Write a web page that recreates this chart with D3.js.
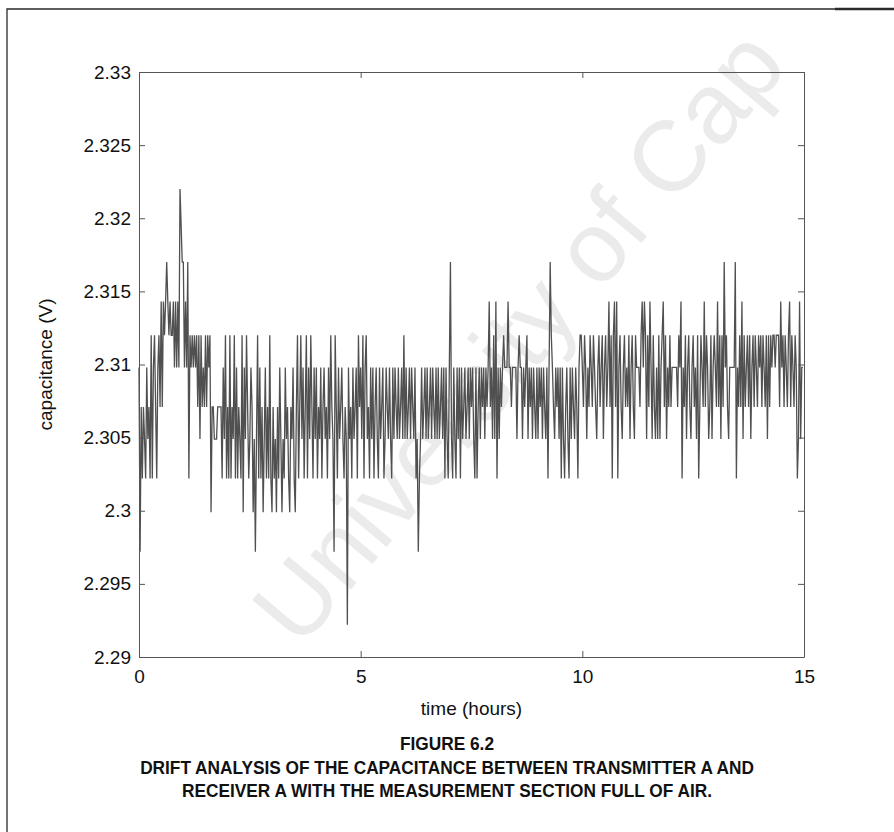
<!DOCTYPE html>
<html>
<head>
<meta charset="utf-8">
<script src="https://cdn.jsdelivr.net/npm/d3@7"></script>
<style>
  html, body { margin: 0; padding: 0; background: #fff; }
  svg { display: block; font-family: "Liberation Sans", Arial, Helvetica, sans-serif; }
</style>
</head>
<body>
<svg id="chart" width="894" height="832"></svg>
<script>
// Quantised ADC output levels (V); each sample is stored as one level code.
const levelCodes = "0123456789ab";
const levelValues = [2.2922, 2.2972, 2.2999, 2.3022, 2.3049, 2.3071, 2.3098, 2.3120, 2.3143, 2.3170, 2.3195, 2.3220];

// One string of level codes per hour of logging (samples evenly spaced within the hour).
const hourlyCodes = [
  "6153543645" + "3736753675" + "8587898787" + "7868686ba9",
  "9686937676" + "7675747565" + "7576725544" + "4555536473",
  "5373547363" + "5437264753" + "4652414736" + "3524635373",
  "2534253642" + "4364532546" + "3257357463" + "5736475364",
  "6354635645" + "3647541753" + "6456435406" + "4536456375",
  "6473674536" + "4635643645" + "6346546436" + "4654645647",
  "4645646546" + "3413464564" + "6456465464" + "6456463643",
  "6943643646" + "3645645646" + "5643635646" + "5646568564",
  "7483646567" + "6668665666" + "6467664656" + "7465646546",
  "4656465463" + "6976546564" + "6364356436" + "4654653677",
  "6576465765" + "7654675674" + "6756857378" + "5836754675",
  "6574675476" + "6657868747" + "5864754647" + "4678574657",
  "5666665768" + "3657467546" + "7564735765" + "8576457467",
  "6585747596" + "7546666693" + "6575847567" + "5746757657",
  "6757657475" + "7677677758" + "6757657857" + "6576348466"
];

const xTickValues = [0, 5, 10, 15];
const yTickValues = [2.29, 2.295, 2.30, 2.305, 2.31, 2.315, 2.32, 2.325, 2.33];
const yTickLabels = ["2.29", "2.295", "2.3", "2.305", "2.31", "2.315", "2.32", "2.325", "2.33"];

const xLabel = "time (hours)";
const yLabel = "capacitance (V)";
const captionLines = [
  "FIGURE 6.2",
  "DRIFT ANALYSIS OF THE CAPACITANCE BETWEEN TRANSMITTER A AND",
  "RECEIVER A WITH THE MEASUREMENT SECTION FULL OF AIR."
];
const watermark = "University of Cap";

// Expand the hourly code strings into (time, value) samples.
const samples = [];
hourlyCodes.forEach((codes, h) => {
  for (let j = 0; j < codes.length; j++) {
    samples.push({ t: h + j / codes.length, v: levelValues[levelCodes.indexOf(codes[j])] });
  }
});

const svg = d3.select("#chart");
const W = 894, H = 832;
const plot = { left: 139, top: 72, right: 804, bottom: 657 };

const x = d3.scaleLinear().domain([0, 15]).range([plot.left, plot.right]);
const y = d3.scaleLinear().domain([2.29, 2.33]).range([plot.bottom, plot.top]);

// Page frame
const frame = svg.append("g").attr("fill", "none").attr("stroke", "#2a2a2a");
frame.append("path").attr("d", `M7,${H} V9 H835`).attr("stroke-width", 1.3);
frame.append("path").attr("d", `M835,9 H${W}`).attr("stroke-width", 2.4);

// Faint diagonal watermark behind the figure
svg.append("text")
  .attr("transform", "translate(300,650) rotate(-50)")
  .attr("font-size", 100)
  .attr("fill", "#ebebeb")
  .text(watermark);

// Data trace
const line = d3.line().x(d => x(d.t)).y(d => y(d.v));
svg.append("path")
  .datum(samples)
  .attr("fill", "none")
  .attr("stroke", "#505050")
  .attr("stroke-width", 1.3)
  .attr("stroke-linejoin", "miter")
  .attr("d", line);

// Axes: inward ticks on all four sides, labels on left and bottom
const axisColor = "#555";
const fontSize = 19;

const gx = svg.append("g").attr("transform", `translate(0,${plot.bottom})`)
  .call(d3.axisBottom(x).tickValues(xTickValues).tickFormat(d3.format("d"))
    .tickSizeInner(-6).tickSizeOuter(0).tickPadding(13));
const gy = svg.append("g").attr("transform", `translate(${plot.left},0)`)
  .call(d3.axisLeft(y).tickValues(yTickValues).tickFormat((d, i) => yTickLabels[i])
    .tickSizeInner(-6).tickSizeOuter(0).tickPadding(8));
const gxTop = svg.append("g").attr("transform", `translate(0,${plot.top})`)
  .call(d3.axisTop(x).tickValues(xTickValues).tickFormat("").tickSizeInner(-6).tickSizeOuter(0));
const gyRight = svg.append("g").attr("transform", `translate(${plot.right},0)`)
  .call(d3.axisRight(y).tickValues(yTickValues).tickFormat("").tickSizeInner(-6).tickSizeOuter(0));

[gx, gy, gxTop, gyRight].forEach(g => {
  g.select(".domain").attr("stroke", axisColor).attr("stroke-width", 1);
  g.selectAll(".tick line").attr("stroke", axisColor).attr("stroke-width", 1);
  g.selectAll(".tick text").attr("fill", "#111").attr("font-size", fontSize)
    .attr("font-family", "Liberation Sans, Arial, sans-serif");
});

// Axis titles
svg.append("text")
  .attr("x", (plot.left + plot.right) / 2).attr("y", 715)
  .attr("text-anchor", "middle").attr("font-size", fontSize).attr("fill", "#111")
  .text(xLabel);
svg.append("text")
  .attr("transform", `translate(52,${(plot.top + plot.bottom) / 2}) rotate(-90)`)
  .attr("text-anchor", "middle").attr("font-size", fontSize).attr("fill", "#111")
  .text(yLabel);

// Figure caption (bold, slightly condensed)
svg.append("g").selectAll("text").data(captionLines).join("text")
  .attr("transform", (d, i) => `translate(${W / 2},${750 + i * 23.5}) scale(0.96,1)`)
  .attr("text-anchor", "middle").attr("font-size", 18).attr("font-weight", "bold")
  .attr("fill", "#111")
  .text(d => d);
</script>
</body>
</html>
